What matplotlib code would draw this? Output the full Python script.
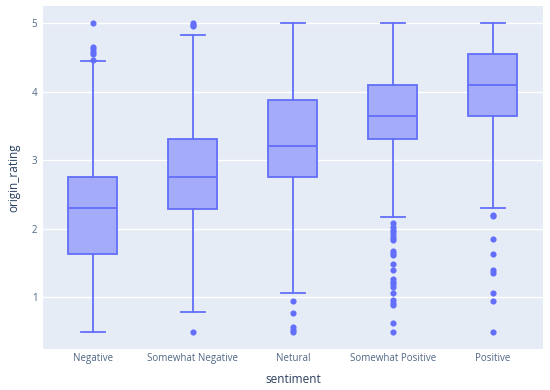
import matplotlib.pyplot as plt

# box statistics
categories = ["Negative", "Somewhat Negative", "Netural", "Somewhat Positive", "Positive"]
q1 = [1.63, 2.29, 2.75, 3.31, 3.65]
medians = [2.30, 2.75, 3.20, 3.65, 4.10]
q3 = [2.75, 3.31, 3.88, 4.10, 4.55]
whisker_low = [0.50, 0.78, 1.06, 2.17, 2.30]
whisker_high = [4.44, 4.83, 5.00, 5.00, 5.00]
outliers = [
    [4.46, 4.55, 4.58, 4.62, 4.65, 5.0],
    [0.5, 4.95, 4.97, 5.0],
    [0.5, 0.53, 0.57, 0.77, 0.95],
    [2.08, 2.02, 1.98, 1.95, 1.91, 1.87, 1.84, 1.68, 1.64, 1.61, 1.49, 1.40,
     1.26, 1.23, 1.19, 1.15, 1.06, 0.96, 0.92, 0.89, 0.63, 0.5],
    [2.20, 2.18, 1.85, 1.63, 1.40, 1.36, 1.06, 0.95, 0.5],
]

line_col = "#636efa"
text_col = "#2a3f5f"
plt.rcParams['font.family'] = ['Open Sans', 'DejaVu Sans']

stats = []
for i, name in enumerate(categories):
    stats.append(dict(label=name, q1=q1[i], med=medians[i], q3=q3[i],
                      whislo=whisker_low[i], whishi=whisker_high[i],
                      fliers=outliers[i]))

fig = plt.figure(figsize=(5.5, 3.9), dpi=100)
ax = fig.add_axes([0.078, 0.105, 0.909, 0.88])
ax.set_facecolor("#e5ecf6")

ax.bxp(stats, positions=range(len(categories)), widths=0.49, capwidths=0.24,
       patch_artist=True, showfliers=True,
       boxprops=dict(facecolor="#a4abf8", edgecolor=line_col, linewidth=1.3),
       medianprops=dict(color=line_col, linewidth=1.3),
       whiskerprops=dict(color=line_col, linewidth=1.3),
       capprops=dict(color=line_col, linewidth=1.3),
       flierprops=dict(marker='o', markerfacecolor=line_col, markeredgecolor=line_col,
                       markersize=3.4, linestyle='none'))

ax.set_xlim(-0.5, len(categories) - 0.5)
ax.set_ylim(0.245, 5.25)
ax.set_yticks([1, 2, 3, 4, 5])
ax.grid(axis='y', color='white', linewidth=1)
ax.set_axisbelow(True)
for s in ax.spines.values():
    s.set_visible(False)
ax.tick_params(length=0, labelsize=7, labelcolor="#506784")
ax.tick_params(axis='x', pad=3)
ax.tick_params(axis='y', pad=4)
ax.set_xlabel("sentiment", fontsize=8.5, color=text_col, labelpad=6)
ax.set_ylabel("origin_rating", fontsize=8.5, color=text_col, labelpad=8)

fig.savefig("out.png", dpi=100)
